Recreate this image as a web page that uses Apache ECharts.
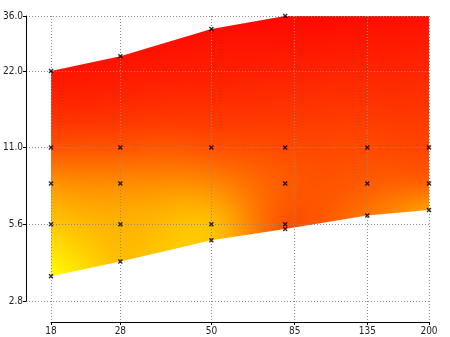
<!DOCTYPE html>
<html><head><meta charset="utf-8">
<script src="https://cdn.jsdelivr.net/npm/echarts@6/dist/echarts.min.js"></script>
<style>html,body{margin:0;padding:0;background:#fff}#c{width:450px;height:337px}</style>
</head><body><div id="c"></div>
<script>
// Axis ticks
const xTicks = [18, 28, 50, 85, 135, 200];
const yTicks = [2.8, 5.6, 11.2, 22.4, 36.8];
const yTickLabels = ['2.8', '5.6', '11.0', '22.0', '36.0'];

// Measured points (x, y) and their surface value z (0 = red, 1 = yellow)
const ptX = [18, 18, 18, 18, 18,   28, 28, 28, 28, 28,   50, 50, 50, 50,   80, 80, 80, 80, 80,   135, 135, 135, 135,   200, 200, 200, 200];
const ptY = [3.5, 5.6, 8.1, 11.2, 22.4,   4.0, 5.6, 8.1, 11.2, 25.6,   4.85, 5.6, 11.2, 32.7,   5.37, 5.6, 8.1, 11.2, 36.8,   6.07, 8.1, 11.2, 42,   6.37, 8.1, 11.2, 46];
const ptZ = [1.00, 0.78, 0.58, 0.33, 0.08,   0.75, 0.70, 0.55, 0.33, 0.07,   0.77, 0.75, 0.32, 0.05,   0.33, 0.33, 0.36, 0.29, 0.03,   0.47, 0.36, 0.29, 0.02,   0.63, 0.39, 0.28, 0.02];

// Envelope of the surface
const edgeX = [18, 28, 50, 80, 135, 200];
const upperY = [22.4, 25.6, 32.7, 36.8, 42, 46];
const lowerY = [3.5, 4.0, 4.85, 5.37, 6.07, 6.37];

const colorLow = [255, 0, 0];     // z = 0
const colorHigh = [255, 255, 0];  // z = 1

const chart = echarts.init(document.getElementById('c'), null, {renderer: 'canvas'});
const FONT = "'Liberation Sans Narrow', 'DejaVu Sans Condensed', 'Liberation Sans', sans-serif";
const dotted = {color: '#8a8a8a', width: 1, type: [1, 2]};

function phi(r2) { return r2 > 1e-12 ? 0.5 * r2 * Math.log(r2) : 0; }

function solve(A, b) {
  const n = b.length;
  for (let c = 0; c < n; c++) {
    let p = c;
    for (let r = c + 1; r < n; r++) if (Math.abs(A[r][c]) > Math.abs(A[p][c])) p = r;
    [A[c], A[p]] = [A[p], A[c]]; [b[c], b[p]] = [b[p], b[c]];
    for (let r = c + 1; r < n; r++) {
      const f = A[r][c] / A[c][c];
      if (!f) continue;
      for (let k = c; k < n; k++) A[r][k] -= f * A[c][k];
      b[r] -= f * b[c];
    }
  }
  const x = new Array(n).fill(0);
  for (let r = n - 1; r >= 0; r--) {
    let s = b[r];
    for (let k = r + 1; k < n; k++) s -= A[r][k] * x[k];
    x[r] = s / A[r][r];
  }
  return x;
}

function renderField(params, api) {
  if (params.dataIndex !== 0) return null;
  const cs = params.coordSys;
  const W = Math.round(cs.width), H = Math.round(cs.height);
  const S = 100;
  const pts = ptX.map((x, i) => {
    const p = api.coord([x, ptY[i]]);
    return [(p[0] - cs.x) / S, (p[1] - cs.y) / S, ptZ[i]];
  });
  const n = pts.length;
  const A = [], b = [];
  for (let i = 0; i < n + 3; i++) { A.push(new Array(n + 3).fill(0)); b.push(0); }
  for (let i = 0; i < n; i++) {
    for (let j = 0; j < n; j++) {
      const dx = pts[i][0] - pts[j][0], dy = pts[i][1] - pts[j][1];
      A[i][j] = phi(dx * dx + dy * dy);
    }
    A[i][n] = 1; A[i][n + 1] = pts[i][0]; A[i][n + 2] = pts[i][1];
    A[n][i] = 1; A[n + 1][i] = pts[i][0]; A[n + 2][i] = pts[i][1];
    b[i] = pts[i][2];
  }
  const w = solve(A, b);
  const src = document.createElement('canvas');
  src.width = W; src.height = H;
  const ctx = src.getContext('2d');
  const img = ctx.createImageData(W, H);
  const d = img.data;
  for (let y = 0; y < H; y++) {
    const fy = (y + 0.5) / S;
    for (let x = 0; x < W; x++) {
      const fx = (x + 0.5) / S;
      let z = w[n] + w[n + 1] * fx + w[n + 2] * fy;
      for (let k = 0; k < n; k++) {
        const dx = fx - pts[k][0], dy = fy - pts[k][1];
        z += w[k] * phi(dx * dx + dy * dy);
      }
      z = Math.max(0, Math.min(1, z));
      const o = (y * W + x) * 4;
      d[o] = colorLow[0] + (colorHigh[0] - colorLow[0]) * z;
      d[o + 1] = colorLow[1] + (colorHigh[1] - colorLow[1]) * z;
      d[o + 2] = colorLow[2] + (colorHigh[2] - colorLow[2]) * z;
      d[o + 3] = 255;
    }
  }
  ctx.putImageData(img, 0, 0);
  const out = document.createElement('canvas');
  out.width = W; out.height = H;
  const octx = out.getContext('2d');
  octx.beginPath();
  edgeX.forEach((x, i) => {
    const p = api.coord([x, upperY[i]]);
    if (i === 0) octx.moveTo(p[0] - cs.x, p[1] - cs.y); else octx.lineTo(p[0] - cs.x, p[1] - cs.y);
  });
  for (let i = edgeX.length - 1; i >= 0; i--) {
    const p = api.coord([edgeX[i], lowerY[i]]);
    octx.lineTo(p[0] - cs.x, p[1] - cs.y);
  }
  octx.closePath();
  octx.clip();
  octx.drawImage(src, 0, 0);
  return {type: 'image', silent: true, style: {image: out, x: cs.x, y: cs.y, width: W, height: H}};
}

const yRange = {type: 'log', logBase: 2, min: 2.8, max: 36.8};
const xRange = {type: 'log', logBase: 10, min: 18, max: 200};

chart.setOption({
  animation: false,
  backgroundColor: '#fff',
  grid: [
    {left: 51, right: 21, top: 16, bottom: 36},
    {left: 22, right: 21, top: 16, bottom: 36},
    {left: 51, right: 21, top: 16, bottom: 15}
  ],
  xAxis: [
    Object.assign({gridIndex: 0, show: false}, xRange),
    Object.assign({gridIndex: 1, show: false}, xRange),
    Object.assign({
      gridIndex: 2, z: 5,
      axisLine: {show: true, lineStyle: {color: '#000', width: 1}},
      axisTick: {show: true, length: 3, customValues: xTicks, lineStyle: {color: '#000'}},
      axisLabel: {customValues: xTicks, margin: 4, color: '#222', fontFamily: FONT, fontSize: 10,
        formatter: v => String(Math.round(v))},
      splitLine: {show: true, lineStyle: dotted}
    }, xRange)
  ],
  yAxis: [
    Object.assign({gridIndex: 0, show: false}, yRange),
    Object.assign({
      gridIndex: 1, z: 5,
      axisLine: {show: true, lineStyle: {color: '#000', width: 1}},
      axisTick: {show: true, length: 3, customValues: yTicks, lineStyle: {color: '#000'}},
      axisLabel: {customValues: yTicks, margin: 3, color: '#222', fontFamily: FONT, fontSize: 10,
        formatter: v => {
          const i = yTicks.findIndex(t => Math.abs(t - v) / t < 1e-4);
          return i >= 0 ? yTickLabels[i] : '';
        }},
      splitLine: {show: true, lineStyle: dotted}
    }, yRange),
    Object.assign({gridIndex: 2, show: false}, yRange)
  ],
  series: [
    {
      type: 'custom', xAxisIndex: 0, yAxisIndex: 0, z: 1, silent: true,
      data: [[edgeX[0], lowerY[0]]],
      renderItem: renderField
    },
    {
      type: 'scatter', xAxisIndex: 0, yAxisIndex: 0, z: 10, silent: true,
      symbol: 'path://M0,2L2,0L5,3L8,0L10,2L7,5L10,8L8,10L5,7L2,10L0,8L3,5Z',
      symbolSize: 5,
      itemStyle: {color: '#000'},
      data: ptX.map((x, i) => [x, ptY[i]])
    }
  ]
});
</script>
</body></html>
